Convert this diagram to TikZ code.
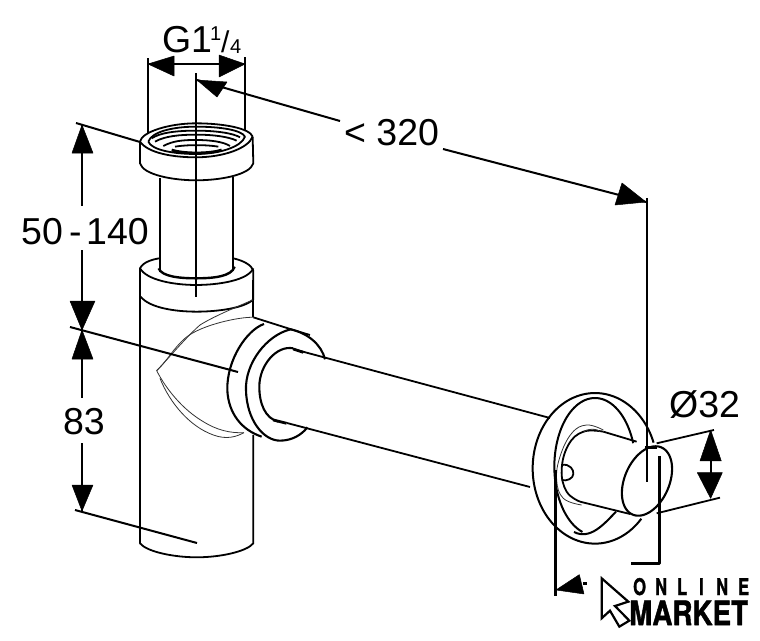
\documentclass[tikz,border=0pt]{standalone}
\usepackage{fontspec}
\setmainfont{Liberation Sans}
\newfontfamily\logofont{TeX Gyre Heros}[BoldFeatures={FakeBold=1.6}]
\begin{document}
\begin{tikzpicture}[x=1pt,y=-1pt,line join=round,
  ln/.style={line width=1.8pt,black},
  dimln/.style={line width=2pt,black},
  heavy/.style={line width=3pt,black},
  hair/.style={line width=0.8pt,black!80},
  tip/.style={fill=black,draw=black,line width=0.5pt},
  lbl/.style={font=\fontsize{37.5}{37.5}\selectfont,inner sep=0pt,text=black},
  logotop/.style={anchor=base west,inner sep=0pt,xscale=0.72,font=\logofont\bfseries\fontsize{23}{23}\selectfont},
  z1/.style={shift={(60,0)},x=0.3333pt,y=-0.3333pt},
  z2/.style={shift={(60,280)},x=0.3333pt,y=-0.3333pt},
  z3/.style={shift={(500,370)},x=0.3333pt,y=-0.3333pt}]
\useasboundingbox (0,0) rectangle (760,640);
\fill[white] (0,0) rectangle (760,640);

% --- upper pipe and nut
\begin{scope}[z1]
\draw[ln] (300,535) -- (300,815) (520,530) -- (520,810);
\draw[ln] (240,425) -- (240,490) .. controls (250,525) and (340,541) .. (408,541) .. controls (480,541) and (570,525) .. (580,490) -- (578,410);
\draw[ln] (240,425) .. controls (245,395) and (330,370) .. (408,370) .. controls (490,370) and (570,385) .. (578,410);
\draw[ln] (240,425) .. controls (265,460) and (340,472) .. (408,472) .. controls (490,472) and (565,445) .. (578,410);
\draw[ln] (265,425) .. controls (275,395) and (340,380) .. (408,380) .. controls (480,380) and (545,390) .. (555,410) .. controls (545,440) and (480,462) .. (408,462) .. controls (340,462) and (275,450) .. (265,425);
\draw[ln] (275,415) .. controls (300,398) and (350,392) .. (408,392) .. controls (470,392) and (520,400) .. (540,412);
\draw[ln] (285,425) .. controls (315,408) and (360,404) .. (408,404) .. controls (460,404) and (505,410) .. (530,422);
\draw[ln] (310,438) .. controls (340,422) and (370,420) .. (408,420) .. controls (450,420) and (490,425) .. (510,438);
\draw[line width=2.8pt] (335,450) .. controls (370,462) and (450,462) .. (485,450);
\draw[ln] (345,440) .. controls (380,434) and (440,434) .. (475,440);
% collar of the body
\draw[ln] (240,900) -- (240,805) .. controls (250,785) and (280,778) .. (298,775);
\draw[ln] (520,775) .. controls (550,782) and (575,795) .. (580,812) -- (580,900);
\draw[line width=2.4pt] (296,805) .. controls (305,830) and (360,835) .. (408,835) .. controls (460,835) and (515,830) .. (524,800);
\draw[ln] (240,805) .. controls (260,840) and (340,855) .. (408,855) .. controls (480,855) and (565,840) .. (580,805);
\end{scope}

% --- body
\begin{scope}[z2]
\draw[ln] (240,0) -- (240,790) .. controls (260,815) and (340,832) .. (410,832) .. controls (480,832) and (560,815) .. (580,790) -- (580,465);
\draw[ln] (580,0) -- (580,112);
\draw[ln] (242,50) .. controls (270,85) and (350,95) .. (410,95) .. controls (470,95) and (550,85) .. (578,60);
\draw[ln] (580,112) -- (700,150) -- (750,165);
% elbow
\draw[hair] (290,272) .. controls (320,245) and (340,205) .. (375,175) .. controls (420,135) and (540,110) .. (580,112);
\draw[hair] (290,272) .. controls (330,230) and (380,170) .. (420,135) .. controls (460,110) and (520,85) .. (578,60);
\draw[hair] (290,272) .. controls (320,330) and (370,390) .. (430,425) .. controls (470,450) and (510,460) .. (552,458);
\draw[hair] (300,295) .. controls (330,370) and (390,440) .. (460,465) .. controls (500,480) and (530,470) .. (552,458);
% rings
\draw[line width=2.1pt] (612,132) .. controls (560,150) and (500,240) .. (502,330) .. controls (505,400) and (545,450) .. (605,470);
\draw[line width=2.1pt] (692,148) .. controls (620,165) and (555,250) .. (558,330) .. controls (560,420) and (610,482) .. (660,482) .. controls (695,482) and (725,465) .. (742,442);
\draw[line width=2.1pt] (692,148) .. controls (745,160) and (785,195) .. (795,238);
% pipe opening
\draw[line width=2.1pt] (700,205) .. controls (650,195) and (598,255) .. (598,320) .. controls (598,370) and (615,415) .. (655,425);
\draw[line width=2.8pt] (700,207) -- (730,217) (640,420) -- (680,430);
\end{scope}

% --- long pipe
\coordinate (pipeAa) at (293,349);
\coordinate (pipeAb) at (550,418);
\coordinate (pipeBa) at (287,423);
\coordinate (pipeBb) at (530,487);
\draw[ln] (pipeAa) -- (pipeAb) (pipeBa) -- (pipeBb);

% --- wall flange and end of pipe
\begin{scope}[z3]
\draw[line width=2pt] plot[domain=42:340,samples=80,smooth] ({285+187*cos(\x)},{295+226*sin(\x)});
\draw[line width=2pt] plot[domain=108:340,samples=70,smooth] ({285+122*cos(\x)},{290+206*sin(\x)});
\draw[line width=2pt] (222,486) .. controls (270,510) and (310,465) .. (348,425);
\draw[hair] plot[smooth,tension=0.7] coordinates {(310,180) (260,165) (215,190) (180,260) (170,330) (190,385) (245,405)};
\draw[ln] plot[smooth,tension=0.7] coordinates {(310,185) (250,185) (205,225) (185,300) (200,365) (240,395)};
\draw[ln] (310,185) -- (410,215) (240,395) -- (390,432);
\draw[hair] (250,188) .. controls (258,175) and (292,175) .. (300,185);
\draw[ln] (185,285) .. controls (210,280) and (222,300) .. (220,312) .. controls (220,325) and (200,335) .. (185,330);
\draw[line width=2.1pt] plot[domain=0:360,samples=80,smooth] ({441+72*cos(\x)-22*sin(\x)},{333+104*sin(\x)-6*cos(\x)});
\draw[line width=3pt] (435,232) -- (470,232);
\end{scope}

% --- dimension: G 1 1/4
\coordinate (gL) at (148,64);
\coordinate (gR) at (245,64);
\coordinate (gLb) at (148,133);
\coordinate (gRb) at (245,131);
\draw[ln] (148,58) -- (gLb) (245,57) -- (gRb);
\draw[dimln] (gL) -- (gR);
\fill[tip] (gL) -- (174,56) -- (174,76) -- cycle;
\fill[tip] (gR) -- (219,55) -- (219,77) -- cycle;
\node[lbl,anchor=base west] (gtext) at (162,52) {G};
\node[lbl,anchor=base west] (gone) at (191,52) {1};
\node[lbl,anchor=base west,font=\fontsize{20}{20}\selectfont] (gfa) at (210,40) {1};
\node[lbl,anchor=base west,font=\fontsize{30}{30}\selectfont] (gfb) at (221,52) {/};
\node[lbl,anchor=base west,font=\fontsize{20}{20}\selectfont] (gfc) at (230,53) {4};

% centre axis
\coordinate (axT) at (196,73);
\coordinate (axB) at (196,297);
\draw[ln] (axT) -- (axB);

% --- dimension: < 320
\coordinate (lA) at (197,80);
\coordinate (lB) at (340,121);
\coordinate (lC) at (443,149);
\coordinate (lD) at (646,202);
\node[lbl,anchor=base west] (len) at (344,145) {< 320};
\draw[dimln] (lA) -- (lB) (lC) -- (lD);
\fill[tip] (lA) -- (227,82) -- (217,97) -- cycle;
\fill[tip] (lD) -- (622,183) -- (615,205) -- cycle;
\coordinate (lE) at (647,198);
\coordinate (lF) at (647,482);
\draw[ln] (lE) -- (lF);

% --- dimension: 50-140
\coordinate (aT) at (82,125);
\coordinate (aM) at (82,330);
\coordinate (aB) at (82,511);
\node[lbl,anchor=base west] (h1) at (21,244) {50};
\node[lbl,anchor=base west] (h2) at (69,244) {-};
\node[lbl,anchor=base west] (h3) at (86,244) {140};
\node[lbl,anchor=base] (h4) at (84,434) {83};
\draw[dimln] (aT) -- (82,206) (82,250) -- (aM) -- (82,398) (82,443) -- (aB);
\fill[tip] (aT) -- (72,153) -- (93,153) -- cycle;
\fill[tip] (aM) -- (70,301) -- (95,301) -- cycle;
\fill[tip] (aM) -- (72,359) -- (93,359) -- cycle;
\fill[tip] (aB) -- (72,485) -- (93,485) -- cycle;
\coordinate (e1a) at (76,123);
\coordinate (e1b) at (140,142);
\coordinate (e2a) at (70,327);
\coordinate (e2b) at (238,372);
\coordinate (e3a) at (75,510);
\coordinate (e3b) at (197,543);
\draw[dimln] (e1a) -- (e1b) (e2a) -- (e2b) (e3a) -- (e3b);

% --- dimension: diameter 32
\begin{scope}[z3]
\coordinate (dA) at (470,220);
\coordinate (dB) at (642,180);
\coordinate (dC) at (470,430);
\coordinate (dD) at (660,383);
\draw[ln] (dA) -- (dB) (dC) -- (dD);
\draw[dimln] (632,270) -- (632,310);
\fill[tip] (632,180) -- (600,273) -- (664,273) -- cycle;
\fill[tip] (632,385) -- (592,308) -- (667,308) -- cycle;
% wall dimension
\coordinate (wA) at (165,300);
\coordinate (wB) at (165,678);
\coordinate (wC) at (478,258);
\coordinate (wD) at (478,580);
\coordinate (wE) at (392,580);
\draw[heavy] (wA) -- (wB);
\draw[heavy] (wC) -- (wD) -- (wE);
\fill[tip] (168,660) -- (238,614) -- (252,672) -- cycle;
\draw[heavy] (250,640) -- (262,640);
% logo pointer
\draw[line width=2.2pt,line join=miter] (305,625) -- (385,695) -- (345,708) -- (388,752) -- (358,770) -- (330,722) -- (305,745) -- cycle;
\end{scope}
\node[lbl,anchor=base west] (dia) at (669,417) {Ø32};

% --- logo
\node[logotop] (logoa) at (633,595) {O};
\node[logotop] (logob) at (655,595) {N};
\node[logotop] (logoc) at (677,595) {L};
\node[logotop] (logod) at (699,595) {I};
\node[logotop] (logoe) at (716,595) {N};
\node[logotop] (logof) at (738,595) {E};
\node[anchor=base west,inner sep=0pt,font=\logofont\bfseries\fontsize{33.5}{33.5}\selectfont,xscale=0.83] (logom) at (629,625) {MARKET};
\end{tikzpicture}
\end{document}
